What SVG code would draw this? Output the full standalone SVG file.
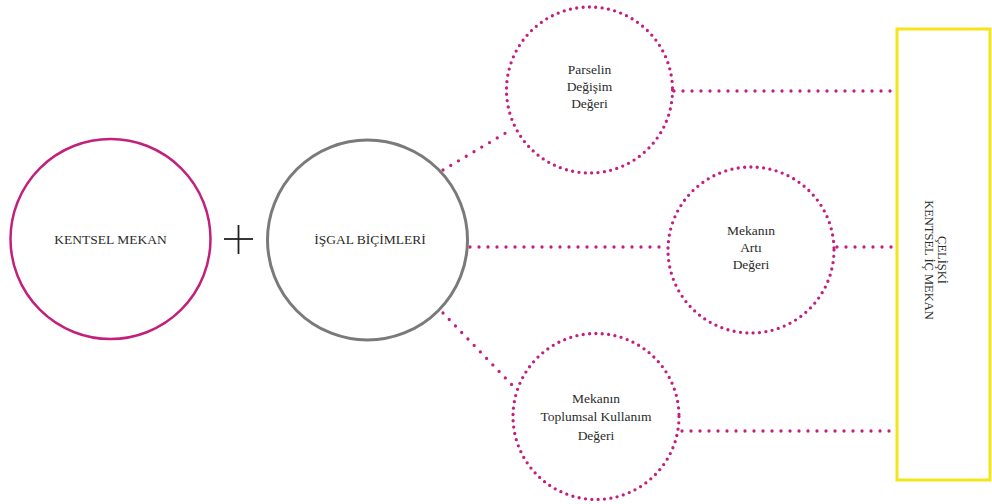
<svg xmlns="http://www.w3.org/2000/svg" width="992" height="504" viewBox="0 0 992 504">
<style>
.lbl{font-family:"Liberation Serif","Times New Roman",serif;font-size:13.5px;fill:#2b2b2b;text-anchor:middle}
.dot{fill:none;stroke:#c41f80;stroke-width:3.3;stroke-linecap:round}
.dc{stroke-dasharray:0 6.4}
.dl{stroke-dasharray:0 9}
</style>
<rect width="992" height="504" fill="#fff"/>
<g id="connectors">
<line class="dot dl" x1="443" y1="170" x2="509" y2="131"/>
<line class="dot dl" x1="443" y1="313" x2="514" y2="387"/>
<line class="dot dl" x1="470" y1="247" x2="667" y2="247"/>
<line class="dot dl" x1="674" y1="91" x2="896" y2="91"/>
<line class="dot dl" x1="837" y1="247" x2="896" y2="247"/>
<line class="dot dl" x1="682" y1="431" x2="896" y2="431"/>
</g>
<g id="kentsel-mekan">
<circle cx="110.5" cy="239" r="100" fill="none" stroke="#c2207a" stroke-width="2.5"/>
<text class="lbl" x="110.5" y="244">KENTSEL MEKAN</text>
</g>
<g id="plus">
<line x1="224" y1="239" x2="253" y2="239" stroke="#222" stroke-width="1.8"/>
<line x1="238.5" y1="225" x2="238.5" y2="254" stroke="#222" stroke-width="1.8"/>
</g>
<g id="isgal-bicimleri">
<circle cx="367.5" cy="240" r="100" fill="none" stroke="#7a7a7a" stroke-width="3"/>
<text class="lbl" x="370" y="244">İŞGAL BİÇİMLERİ</text>
</g>
<g id="parselin">
<circle class="dot dc" cx="589.5" cy="90" r="83"/>
<text class="lbl" x="589.5" y="74">Parselin</text>
<text class="lbl" x="589.5" y="91">Değişim</text>
<text class="lbl" x="589.5" y="108">Değeri</text>
</g>
<g id="mekanin-arti">
<circle class="dot dc" cx="751" cy="250" r="83"/>
<text class="lbl" x="751" y="235">Mekanın</text>
<text class="lbl" x="751" y="252">Artı</text>
<text class="lbl" x="751" y="269">Değeri</text>
</g>
<g id="mekanin-toplumsal">
<circle class="dot dc" cx="596" cy="416.5" r="83"/>
<text class="lbl" x="596" y="403">Mekanın</text>
<text class="lbl" x="596" y="421">Toplumsal Kullanım</text>
<text class="lbl" x="596" y="440">Değeri</text>
</g>
<g id="celiski">
<rect x="897" y="29" width="93" height="451" fill="none" stroke="#f2e51a" stroke-width="3"/>
<g transform="translate(934,260) rotate(90)">
<text class="lbl" style="font-size:12.5px" x="0" y="-4">ÇELİŞKİ</text>
<text class="lbl" style="font-size:12.5px" x="0" y="9">KENTSEL İÇ MEKAN</text>
</g>
</g>
</svg>
